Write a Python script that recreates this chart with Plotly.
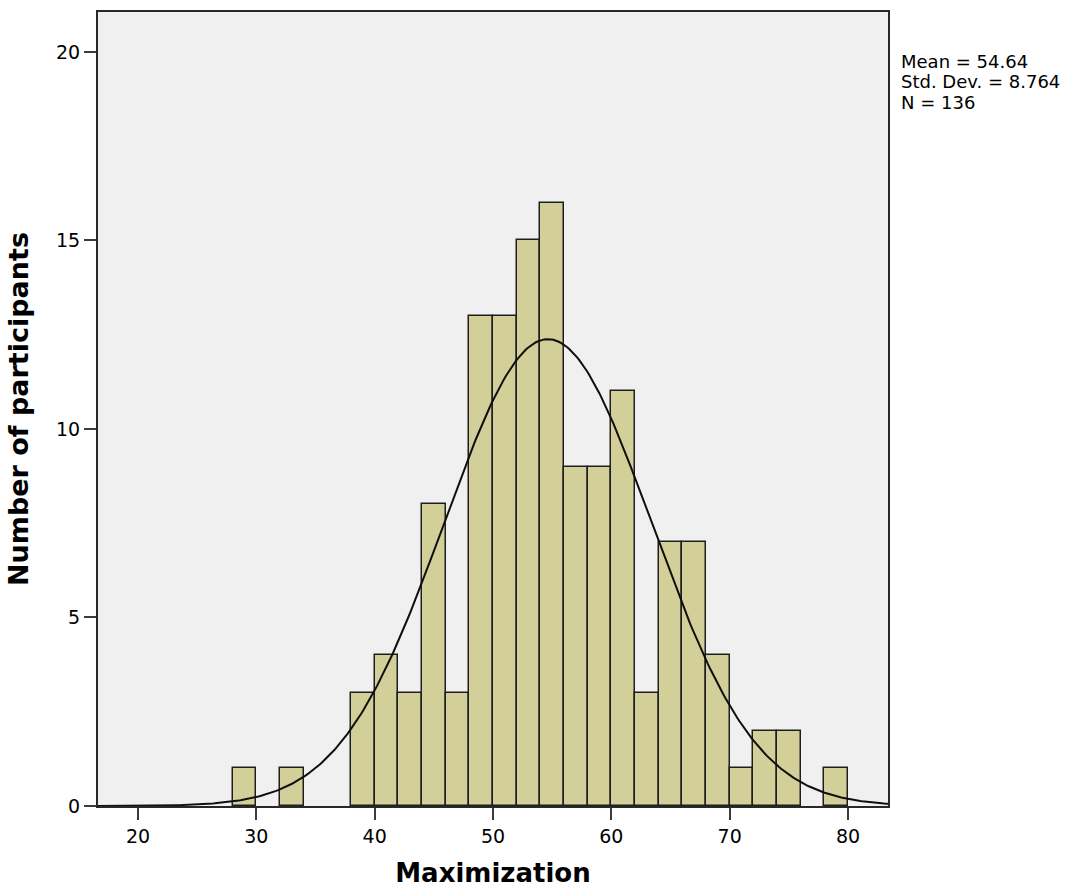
import numpy as np
import plotly.graph_objects as go

# Histogram bins (left edges, width 2) and counts
bin_left = [28, 32, 38, 40, 42, 44, 46, 48, 50, 52, 54, 56, 58, 60, 62, 64, 66, 68, 70, 72, 74, 78]
counts = [1, 1, 3, 4, 3, 8, 3, 13, 13, 15, 16, 9, 9, 11, 3, 7, 7, 4, 1, 2, 2, 1]
bin_width = 2

mean_val = 54.64
sd_val = 8.764
n_val = 136

x_ticks = [20, 30, 40, 50, 60, 70, 80]
y_ticks = [0, 5, 10, 15, 20]

x_range = [16.62, 83.38]
y_range = [0, 21.06]

stats_lines = [
    f"Mean = {mean_val:.2f}",
    f"Std. Dev. = {sd_val:.3f}",
    f"N = {n_val}",
]

centers = [b + bin_width / 2 for b in bin_left]

# Fitted normal curve scaled to counts
xs = np.linspace(x_range[0], x_range[1], 400)
ys = n_val * bin_width / (sd_val * np.sqrt(2 * np.pi)) * np.exp(-0.5 * ((xs - mean_val) / sd_val) ** 2)

fig = go.Figure()
fig.add_trace(go.Bar(
    x=centers, y=counts, width=bin_width,
    marker=dict(color="rgb(211,207,153)", line=dict(color="rgb(30,30,30)", width=1.5)),
    showlegend=False,
))
fig.add_trace(go.Scatter(
    x=xs, y=ys, mode="lines",
    line=dict(color="rgb(15,15,15)", width=2),
    showlegend=False,
))

axis_common = dict(
    ticks="outside", ticklen=12, tickwidth=2,
    tickcolor="rgb(60,60,60)", showgrid=False, zeroline=False,
    showline=True, linecolor="rgb(40,40,40)", linewidth=2, mirror=True,
    tickfont=dict(size=19), automargin=False,
)

fig.update_layout(
    width=1081, height=888,
    margin=dict(l=98, r=193, t=12, b=82),
    paper_bgcolor="white",
    plot_bgcolor="rgb(240,240,240)",
    font=dict(family="DejaVu Sans", color="black", size=18),
    bargap=0,
    xaxis=dict(
        range=x_range, tickvals=x_ticks, **axis_common,
        title=dict(text="<b>Maximization</b>", font=dict(size=26), standoff=18),
    ),
    yaxis=dict(
        range=y_range, tickvals=y_ticks, **axis_common,
        title=dict(text="<b>Number of participants</b>", font=dict(size=27), standoff=20),
    ),
    annotations=[
        dict(
            xref="paper", yref="paper", x=1.014, y=(806 - 61 - i * 20.5) / 794,
            xanchor="left", yanchor="middle", align="left", showarrow=False,
            text=line, font=dict(size=18, color="black"),
        )
        for i, line in enumerate(stats_lines)
    ],
)

fig.write_html("out.html")
